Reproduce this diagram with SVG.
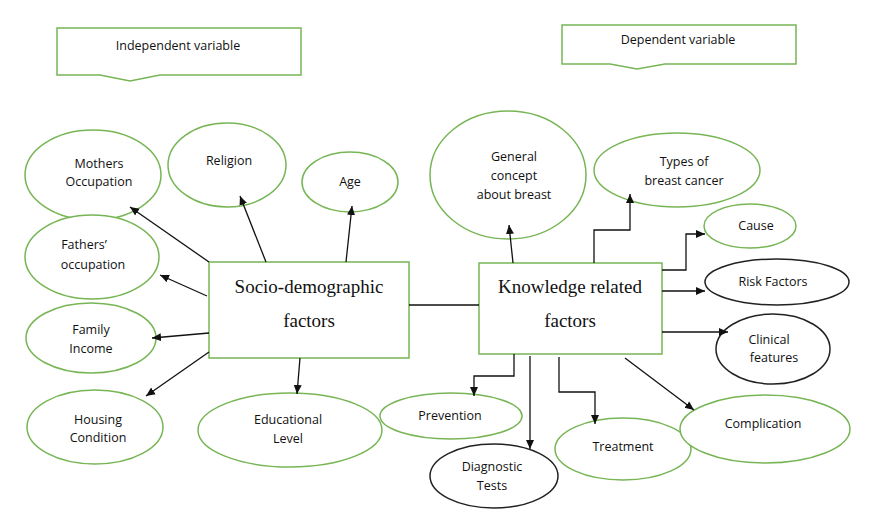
<svg xmlns="http://www.w3.org/2000/svg" width="882" height="518" viewBox="0 0 882 518">
<style>
.g{fill:#fff;stroke:#77b555;stroke-width:1.5}
.k{fill:#fff;stroke:#222;stroke-width:1.5}
.t{font-family:"Open Sans","Liberation Sans",sans-serif;font-size:12.5px;fill:#111;text-anchor:middle}
.b{font-family:"Liberation Serif",serif;font-size:19px;fill:#111;text-anchor:middle}
.c line,.c polyline{stroke:#111;stroke-width:1.3;fill:none}
</style>
<defs><marker id="a" markerWidth="10" markerHeight="10" refX="9" refY="5" orient="auto" markerUnits="userSpaceOnUse"><path d="M0,1 L9,5 L0,9 z" fill="#111"/></marker></defs>
<g id="indep"><path class="g" d="M57,28 H301 V75 H160 L130,81 L100,75 H57 Z"/><text class="t" x="178" y="50">Independent variable</text></g>
<g id="dep"><path class="g" d="M562,25 H796 V64 H665 L637,69 L610,64 H562 Z"/><text class="t" x="678" y="44">Dependent variable</text></g>
<g id="socio"><rect class="g" x="209" y="262" width="200" height="96"/><text class="b" x="309" y="293">Socio-demographic</text><text class="b" x="309" y="327">factors</text></g>
<g id="know"><rect class="g" x="479" y="263" width="183" height="91"/><text class="b" x="570" y="293">Knowledge related</text><text class="b" x="570" y="327">factors</text></g>
<g id="mothers"><ellipse class="g" cx="93" cy="175" rx="68" ry="45"/><text class="t" x="99" y="168">Mothers</text><text class="t" x="99" y="186">Occupation</text></g>
<g id="religion"><ellipse class="g" cx="227" cy="165" rx="59" ry="42"/><text class="t" x="229" y="165">Religion</text></g>
<g id="age"><ellipse class="g" cx="350" cy="182" rx="48" ry="30"/><text class="t" x="350" y="186">Age</text></g>
<g id="fathers"><ellipse class="g" cx="92" cy="257" rx="67" ry="42"/><text class="t" x="84" y="249">Fathers’</text><text class="t" x="93" y="269">occupation</text></g>
<g id="income"><ellipse class="g" cx="91" cy="338" rx="65" ry="35"/><text class="t" x="91" y="334">Family</text><text class="t" x="91" y="353">Income</text></g>
<g id="housing"><ellipse class="g" cx="95" cy="427" rx="68" ry="37"/><text class="t" x="98" y="424">Housing</text><text class="t" x="98" y="442">Condition</text></g>
<g id="education"><ellipse class="g" cx="290" cy="430" rx="92" ry="37"/><text class="t" x="288" y="424">Educational</text><text class="t" x="288" y="443">Level</text></g>
<g id="general"><ellipse class="g" cx="508" cy="175" rx="78" ry="64"/><text class="t" x="514" y="161">General</text><text class="t" x="514" y="180">concept</text><text class="t" x="514" y="199">about breast</text></g>
<g id="types"><ellipse class="g" cx="677" cy="170" rx="83" ry="37"/><text class="t" x="684" y="166">Types of</text><text class="t" x="684" y="185">breast cancer</text></g>
<g id="cause"><ellipse class="g" cx="750" cy="226" rx="46" ry="22"/><text class="t" x="756" y="230">Cause</text></g>
<g id="risk"><ellipse class="k" cx="777" cy="282" rx="72" ry="23"/><text class="t" x="773" y="286">Risk Factors</text></g>
<g id="clinical"><ellipse class="k" cx="773" cy="349" rx="57" ry="35"/><text class="t" x="769" y="344">Clinical</text><text class="t" x="774" y="362">features</text></g>
<g id="prevention"><ellipse class="g" cx="451" cy="416" rx="71" ry="23"/><text class="t" x="450" y="420">Prevention</text></g>
<g id="diagnostic"><ellipse class="k" cx="494" cy="476" rx="64" ry="32"/><text class="t" x="492" y="471">Diagnostic</text><text class="t" x="492" y="490">Tests</text></g>
<g id="treatment"><ellipse class="g" cx="623" cy="449" rx="68" ry="31"/><text class="t" x="623" y="451">Treatment</text></g>
<g id="complication"><ellipse class="g" cx="765" cy="429" rx="85" ry="34"/><text class="t" x="763" y="428">Complication</text></g>
<g class="c">
<line x1="409" y1="305" x2="479" y2="305"/>
<line x1="209" y1="262" x2="130" y2="207" marker-end="url(#a)"/>
<line x1="266" y1="262" x2="240" y2="196" marker-end="url(#a)"/>
<line x1="346" y1="262" x2="352" y2="206" marker-end="url(#a)"/>
<line x1="207" y1="296" x2="160" y2="275" marker-end="url(#a)"/>
<line x1="209" y1="333" x2="152" y2="338" marker-end="url(#a)"/>
<line x1="209" y1="352" x2="146" y2="396" marker-end="url(#a)"/>
<line x1="300" y1="358" x2="297" y2="394" marker-end="url(#a)"/>
<line x1="513" y1="263" x2="509" y2="225" marker-end="url(#a)"/>
<polyline points="594,263 594,230 630,230 630,194" marker-end="url(#a)"/>
<polyline points="662,270 686,270 686,234 705,234" marker-end="url(#a)"/>
<line x1="662" y1="291" x2="705" y2="291" marker-end="url(#a)"/>
<line x1="662" y1="332" x2="728" y2="332" marker-end="url(#a)"/>
<polyline points="514,354 514,376 474,376 474,396" marker-end="url(#a)"/>
<line x1="530" y1="356" x2="530" y2="449" marker-end="url(#a)"/>
<polyline points="559,357 559,392 595,392 595,424" marker-end="url(#a)"/>
<line x1="625" y1="358" x2="694" y2="410" marker-end="url(#a)"/>
</g>
</svg>
